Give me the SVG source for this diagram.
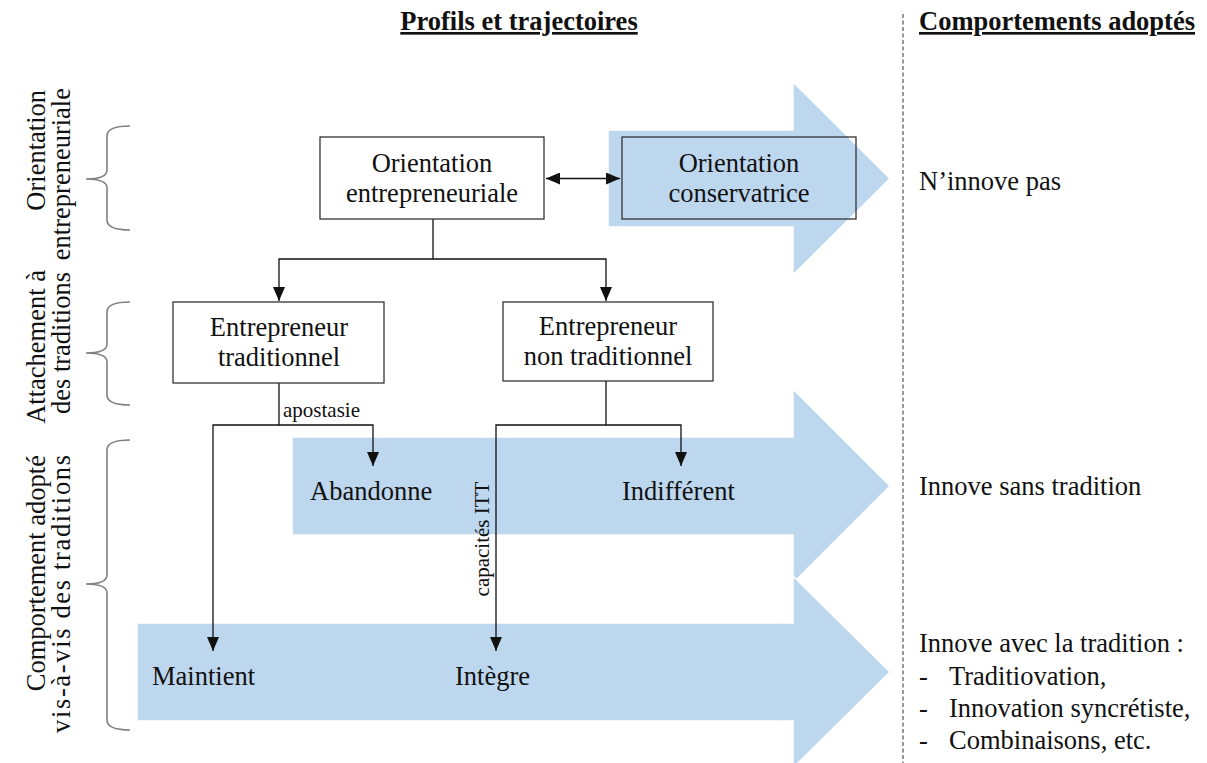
<svg xmlns="http://www.w3.org/2000/svg" width="1207" height="763" viewBox="0 0 1207 763">
<style>
  text { font-family: "Liberation Serif", "Times New Roman", serif; fill: #111; }
  .t { font-size: 26.5px; }
  .c { text-anchor: middle; }
  .h { font-size: 26.5px; font-weight: bold; text-decoration: underline; }
  .small { font-size: 21px; }
  .arrow { fill: #bdd7ee; stroke: #ffffff; stroke-width: 1.5; }
  .box { fill: #ffffff; stroke: #333333; stroke-width: 1.3; }
  .boxn { fill: none; stroke: #333333; stroke-width: 1.3; }
  .con { fill: none; stroke: #111111; stroke-width: 1.3; }
  .brace { fill: none; stroke: #808080; stroke-width: 1.6; }
  .rot { font-size: 26.5px; text-anchor: end; }
</style>
<defs>
  <marker id="ahb" viewBox="0 0 14 12" refX="14" refY="6" markerWidth="14" markerHeight="12" markerUnits="userSpaceOnUse" orient="auto-start-reverse">
    <path d="M0,0 L14,6 L0,12 Z" fill="#111"/>
  </marker>
</defs>

<g id="headers">
  <text class="h c" x="519" y="30">Profils et trajectoires</text>
  <text class="h" x="919" y="30">Comportements adoptés</text>
</g>

<line x1="903" y1="14" x2="903" y2="763" stroke="#555" stroke-width="1.2" stroke-dasharray="4,2.5"/>

<g id="big-arrows">
  <path id="arrow-top" class="arrow" d="M608,130 L793,130 L793,82 L890,178.5 L793,275 L793,227 L608,227 Z"/>
  <path id="arrow-mid" class="arrow" d="M292,437 L793,437 L793,389 L890,486 L793,583 L793,535 L292,535 Z"/>
  <path id="arrow-bot" class="arrow" d="M137,623 L793,623 L793,576 L890,672 L793,768 L793,721 L137,721 Z"/>
</g>

<g id="braces">
  <path class="brace" d="M130,126 Q107,126 107,136 L107,170 Q107,179 86,179 Q107,179 107,188 L107,220 Q107,230 130,230"/>
  <path class="brace" d="M130,302 Q107,302 107,312 L107,344 Q107,353 86,353 Q107,353 107,362 L107,395 Q107,405 130,405"/>
  <path class="brace" d="M130,440 Q107,440 107,450 L107,575 Q107,584 86,584 Q107,584 107,593 L107,720 Q107,730 130,730"/>
</g>

<g id="connectors">
  <line class="con" x1="546" y1="178.5" x2="620" y2="178.5" marker-start="url(#ahb)" marker-end="url(#ahb)"/>
  <polyline class="con" points="433,219 433,259 279,259 279,301" marker-end="url(#ahb)"/>
  <polyline class="con" points="433,259 606,259 606,301" marker-end="url(#ahb)"/>
  <polyline class="con" points="279,383 279,425 373,425 373,466" marker-end="url(#ahb)"/>
  <polyline class="con" points="279,425 213,425 213,651" marker-end="url(#ahb)"/>
  <polyline class="con" points="606,381 606,425 681,425 681,466" marker-end="url(#ahb)"/>
  <polyline class="con" points="606,425 496,425 496,651" marker-end="url(#ahb)"/>
</g>

<g id="labels">
  <text class="small" x="283" y="417">apostasie</text>
  <text class="small c" transform="translate(489,539) rotate(-90)">capacités ITT</text>
  <text class="rot" transform="translate(45,90) rotate(-90)">Orientation</text>
  <text class="rot" transform="translate(70,88) rotate(-90)">entrepreneuriale</text>
  <text class="rot" transform="translate(45,270) rotate(-90)">Attachement à</text>
  <text class="rot" transform="translate(70,272) rotate(-90)">des traditions</text>
  <text class="rot" transform="translate(45,455) rotate(-90)">Comportement adopté</text>
  <text class="rot" transform="translate(70,455) rotate(-90)" textLength="278" lengthAdjust="spacing">vis-à-vis des traditions</text>
</g>

<g id="n-orient-ent">
  <rect class="box" x="320" y="137" width="224" height="82"/>
  <text class="t c" x="432" y="172">Orientation</text>
  <text class="t c" x="432" y="202">entrepreneuriale</text>
</g>
<g id="n-orient-cons">
  <rect class="boxn" x="622" y="137" width="234" height="82"/>
  <text class="t c" x="739" y="172">Orientation</text>
  <text class="t c" x="739" y="202">conservatrice</text>
</g>
<g id="n-ent-trad">
  <rect class="box" x="173" y="302" width="211" height="81"/>
  <text class="t c" x="279" y="336">Entrepreneur</text>
  <text class="t c" x="279" y="366">traditionnel</text>
</g>
<g id="n-ent-nontrad">
  <rect class="box" x="503" y="302" width="210" height="79"/>
  <text class="t c" x="608" y="335">Entrepreneur</text>
  <text class="t c" x="608" y="365">non traditionnel</text>
</g>

<g id="n-abandonne"><text class="t" x="310" y="500">Abandonne</text></g>
<g id="n-indifferent"><text class="t" x="622" y="500">Indifférent</text></g>
<g id="n-maintient"><text class="t" x="152" y="685">Maintient</text></g>
<g id="n-integre"><text class="t" x="455" y="685">Intègre</text></g>

<g id="right-labels">
  <text class="t" x="919" y="190">N’innove pas</text>
  <text class="t" x="919" y="495">Innove sans tradition</text>
  <text class="t" x="919" y="652">Innove avec la tradition :</text>
  <text class="t" x="919" y="685">-</text>
  <text class="t" x="949" y="685">Traditiovation,</text>
  <text class="t" x="919" y="717">-</text>
  <text class="t" x="949" y="717">Innovation syncrétiste,</text>
  <text class="t" x="919" y="749">-</text>
  <text class="t" x="949" y="749">Combinaisons, etc.</text>
</g>
</svg>
